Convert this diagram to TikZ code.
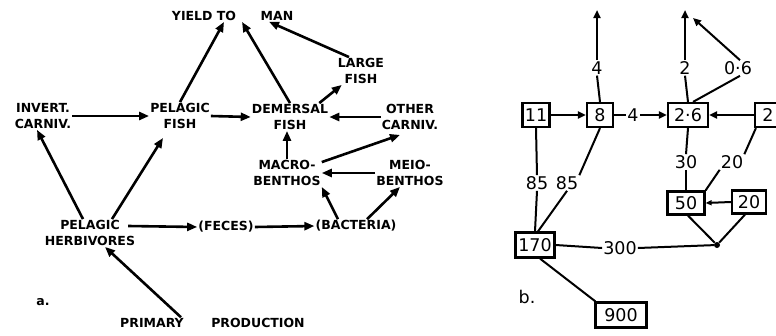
\documentclass[tikz,border=0pt]{standalone}
\usepackage{fontspec}
\setmainfont{DejaVu Sans}
\newfontfamily\numfont{DejaVu Sans}
\usetikzlibrary{arrows.meta}
\tikzset{
  lbl/.style={font=\bfseries\fontsize{12.5}{16}\selectfont, align=center, inner sep=1pt},
  arr/.style={line width=2.6pt, -{Triangle[length=10pt,width=8pt]}},
  box/.style={draw, line width=2.2pt, minimum height=24pt, inner sep=0pt, font=\numfont\fontsize{17.5}{20}\selectfont},
  num/.style={font=\numfont\fontsize{17.5}{20}\selectfont, inner sep=1pt},
  ln/.style={line width=2pt},
  barr/.style={line width=2pt, -{Triangle[length=8pt,width=7pt]}},
  sarr/.style={line width=2pt, -{Triangle[length=6pt,width=5pt]}}
}
\begin{document}
\begin{tikzpicture}[x=1pt,y=-1pt]
\useasboundingbox (0,0) rectangle (776,335);
% ---------- part a ----------
\node[lbl] (yield) at (204,16) {YIELD TO};
\node[lbl] (man) at (277,16) {MAN};
\node[lbl] (large) at (361,71) {LARGE\\FISH};
\node[lbl] (inv) at (43,116) {INVERT.\\CARNIV.};
\node[lbl] (pf) at (180,116) {PELAGIC\\FISH};
\node[lbl] (dem) at (290,117) {DEMERSAL\\FISH};
\node[lbl] (oth) at (410,117) {OTHER\\CARNIV.};
\node[lbl] (mac) at (287,173) {MACRO-\\BENTHOS};
\node[lbl] (mei) at (410,173) {MEIO-\\BENTHOS};
\node[lbl] (bac) at (356,226) {(BACTERIA)};
\node[lbl] (fec) at (226,227) {(FECES)};
\node[lbl] (herb) at (90,233) {PELAGIC\\HERBIVORES};
\node[lbl] (prim) at (152,323) {PRIMARY};
\node[lbl] (prod) at (258,323) {PRODUCTION};
\node[lbl] (la) at (43,302) {a.};

\draw[arr] (pf.north) -- ([xshift=20pt]yield.south);
\draw[arr] (dem.north) -- ([xshift=38pt]yield.south);
\draw[arr] ([xshift=-12pt]large.north) -- ([xshift=-8pt]man.south);
\draw[arr] ([xshift=-10pt]dem.north east) -- ([xshift=5pt]large.south west);
\draw[arr] (inv.east) -- (pf.west);
\draw[arr] (pf.east) -- (dem.west);
\draw[arr] (oth.west) -- (dem.east);
\draw[arr] (mac.north) -- (mac.north |- dem.south);
\draw[arr] ([yshift=-3pt]mac.north east) -- ([xshift=-10pt,yshift=-4pt]oth.south);
\draw[arr] (mei.west) -- (mac.east);
\draw[arr] ([xshift=-18pt]bac.north) -- (mac.south east);
\draw[arr] ([xshift=11pt]bac.north) -- ([xshift=-10pt]mei.south);
\draw[arr] (fec.east) -- (bac.west);
\draw[arr] ([xshift=-8pt,yshift=7pt]herb.east) -- (fec.west);
\draw[arr] ([xshift=-7pt]herb.north) -- ([xshift=-6pt]inv.south);
\draw[arr] ([xshift=22pt]herb.north) -- ([xshift=-17pt,yshift=-8pt]pf.south);
\draw[arr] ([xshift=-4pt]prim.north east) -- ([xshift=15pt]herb.south);

% ---------- part b ----------
\node[box, minimum width=27pt] (b11) at (536,115) {11};
\node[box, minimum width=26pt] (b8) at (600,115) {8};
\node[box, minimum width=40pt] (b26) at (688,115) {2·6};
\node[box, minimum width=26pt] (b2) at (768,115) {2};
\node[box, minimum width=37pt, minimum height=23pt] (b50) at (686,203) {50};
\node[box, minimum width=34pt, minimum height=23pt] (b20) at (749,202) {20};
\node[box, minimum width=39pt, minimum height=25pt] (b170) at (535,245) {170};
\node[box, minimum width=51pt, minimum height=25pt] (b900) at (621,315) {900};
\node[circle, fill, inner sep=0pt, minimum size=6pt] (dot) at (717,245) {};

\node[num] (l4a) at (597,68) {4};
\node[num] (l2) at (685,68) {2};
\node[num] (l06) at (738,68) {0·6};
\node[num] (l4b) at (633,115) {4};
\node[num] (l30) at (686,162) {30};
\node[num] (l20) at (732,162) {20};
\node[num] (l85a) at (537,183) {85};
\node[num] (l85b) at (567,183) {85};
\node[num] (l300) at (620,248) {300};
\node[num] (lb) at (527,297) {b.};

\coordinate (t1) at (597,10);
\coordinate (t2) at (685,10);
\coordinate (t3) at (693,18);

\draw[barr] (b11.east) -- (b8.west);
\draw[ln] (b8.east) -- (l4b.west);
\draw[barr] (l4b.east) -- (b26.west);
\draw[ln] (b8.north) -- (l4a.south);
\draw[barr] (l4a.north) -- (t1);
\draw[ln] (b26.north) -- (l2.south);
\draw[barr] (l2.north) -- (t2);
\draw[ln] ([xshift=5pt]b26.north) -- ([xshift=2pt]l06.south);
\draw[barr] ([xshift=2pt]l06.north) -- (t3);
\draw[barr] (b2.west) -- (b26.east);
\draw[ln] (b26.south) -- (l30.north);
\draw[ln] ([xshift=2pt]b2.south west) -- (l20.north east);
\draw[ln] (l30.south) -- (b50.north);
\draw[ln] (l20.south west) -- (b50.north east);
\draw[sarr] (b20.west) -- (b50.east);
\draw[ln] ([xshift=2pt]b50.south) -- (dot);
\draw[ln] ([xshift=-4pt]b20.south) -- (dot);
\draw[ln] (dot) -- (l300.east);
\draw[ln] (l300.west) -- (b170.east);
\draw[ln] (b11.south) -- (l85a.north);
\draw[ln] (l85a.south) -- (b170.north);
\draw[ln] (b8.south) -- (l85b.north east);
\draw[ln] (l85b.south) -- ([xshift=3pt]b170.north);
\draw[ln] ([xshift=5pt]b170.south) -- ([xshift=1pt]b900.north west);
\end{tikzpicture}
\end{document}
